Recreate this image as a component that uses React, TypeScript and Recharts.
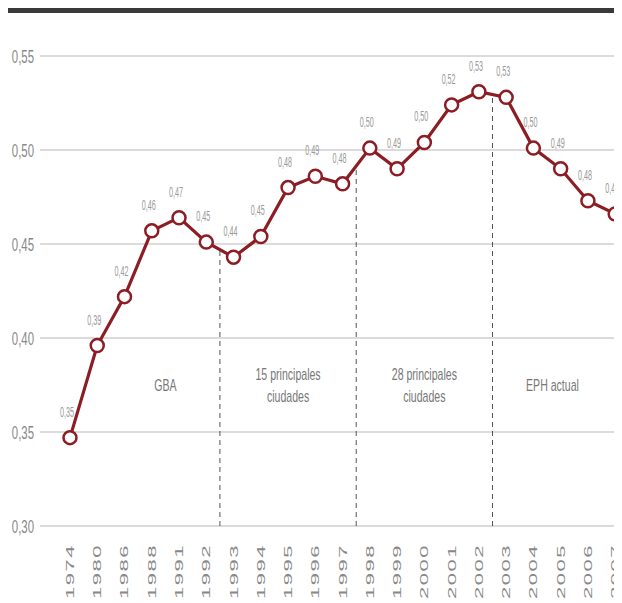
import React from "react"
import { LineChart, Line, XAxis, YAxis, CartesianGrid, ReferenceLine, ReferenceDot, LabelList } from "recharts"

const years = ["1974", "1980", "1986", "1988", "1991", "1992", "1993", "1994", "1995", "1996", "1997", "1998", "1999", "2000", "2001", "2002", "2003", "2004", "2005", "2006", "2007"]
const gini = [0.347, 0.396, 0.422, 0.457, 0.464, 0.451, 0.443, 0.454, 0.48, 0.486, 0.482, 0.501, 0.49, 0.504, 0.524, 0.531, 0.528, 0.501, 0.49, 0.473, 0.466]
const pointLabels = ["0,35", "0,39", "0,42", "0,46", "0,47", "0,45", "0,44", "0,45", "0,48", "0,49", "0,48", "0,50", "0,49", "0,50", "0,52", "0,53", "0,53", "0,50", "0,49", "0,48", "0,47"]
const yTicks = [0.3, 0.35, 0.4, 0.45, 0.5, 0.55]

// survey changes happen between these categories (index of the last year before the break)
const breaks = [5, 10, 15]
const regions = [
  { x: 3.5, y: 0.375, lines: ["GBA"] },
  { x: 8, y: 0.375, lines: ["15 principales", "ciudades"] },
  { x: 13, y: 0.375, lines: ["28 principales", "ciudades"] },
  { x: 17.7, y: 0.375, lines: ["EPH actual"] },
]

const RED = "#8c1d24"
const FONT = "'Liberation Sans', Arial, sans-serif"

const data = years.map((year, i) => ({ i, year, v: gini[i], label: pointLabels[i] }))

const fmt = (v: number) => v.toFixed(2).replace(".", ",")

function XTick(props: any) {
  const { x, y, payload } = props
  return (
    <text
      transform={`translate(${x},${y + 10}) rotate(-90) scale(1,0.5)`}
      textAnchor="end"
      dy="0.36em"
      fontFamily={FONT}
      fontSize={22}
      letterSpacing={1.5}
      fill="#888"
    >
      {years[payload.value]}
    </text>
  )
}

function YTick(props: any) {
  const { x, y, payload } = props
  return (
    <text
      transform={`translate(${x + 2},${y}) scale(0.6,1)`}
      textAnchor="end"
      dy="0.36em"
      fontFamily={FONT}
      fontSize={19}
      fill="#888"
    >
      {fmt(payload.value)}
    </text>
  )
}

function PointLabel(props: any) {
  const { x, y, value } = props
  return (
    <text
      transform={`translate(${x - 3},${y - 21}) scale(0.48,1)`}
      textAnchor="middle"
      fontFamily={FONT}
      fontSize={15}
      fill="#999"
    >
      {value}
    </text>
  )
}

function RegionText(props: any) {
  const { cx, cy, lines } = props
  const lh = 22
  const top = cy - ((lines.length - 1) * lh) / 2
  return (
    <g>
      {lines.map((t: string, k: number) => (
        <text
          key={k}
          transform={`translate(${cx},${top + k * lh}) scale(0.66,1)`}
          textAnchor="middle"
          dy="0.36em"
          fontFamily={FONT}
          fontSize={16}
          fill="#777"
        >
          {t}
        </text>
      ))}
    </g>
  )
}

export default function App() {
  return (
    <div style={{ position: "relative", width: 614, height: 595 }}>
      <div style={{ position: "absolute", top: 0, left: -3, width: 617, height: 5, background: "#3a3a3a" }} />
      <LineChart width={614} height={595} data={data} margin={{ top: 48, right: 0, left: 0, bottom: 0 }}>
        <CartesianGrid vertical={false} stroke="#cfcfcf" strokeWidth={1.5} />
        <XAxis
          type="number"
          dataKey="i"
          domain={[-1.1, 20.25]}
          ticks={data.map((d) => d.i)}
          interval={0}
          allowDataOverflow
          axisLine={false}
          tickLine={false}
          height={77}
          tick={<XTick />}
        />
        <YAxis
          type="number"
          domain={[0.3, 0.55]}
          ticks={yTicks}
          axisLine={false}
          tickLine={false}
          width={32}
          tick={<YTick />}
        />
        {breaks.map((b) => (
          <ReferenceLine
            key={b}
            segment={[
              { x: b + 0.5, y: 0.3 },
              { x: b + 0.5, y: (gini[b] + gini[b + 1]) / 2 },
            ]}
            stroke="#555"
            strokeWidth={1}
            strokeDasharray="5 4"
          />
        ))}
        {regions.map((r, k) => (
          <ReferenceDot key={k} x={r.x} y={r.y} r={0} shape={(p: any) => <RegionText {...p} lines={r.lines} />} />
        ))}
        <Line
          type="linear"
          dataKey="v"
          stroke={RED}
          strokeWidth={3.2}
          dot={{ r: 6.5, fill: "#fff", stroke: RED, strokeWidth: 2.5 }}
          activeDot={false}
          isAnimationActive={false}
        >
          <LabelList dataKey="label" content={<PointLabel />} />
        </Line>
      </LineChart>
    </div>
  )
}
